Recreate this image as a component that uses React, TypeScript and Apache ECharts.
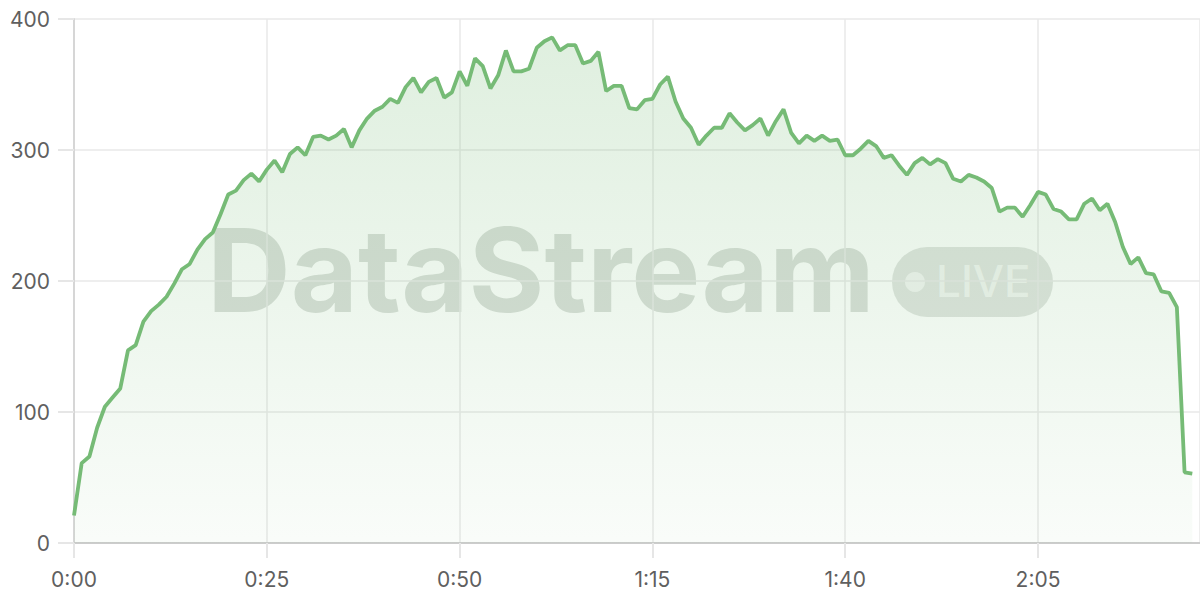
import React, { useEffect, useRef } from "react";
import * as echarts from "echarts";

// Throughput per second (index = elapsed seconds)
const values: number[] = [
  21, 61, 66, 88, 104, 111, 118, 147, 151, 169,
  177, 182, 188, 198, 209, 213, 224, 232, 237, 251,
  266, 269, 277, 282, 276, 285, 292, 283, 297, 302,
  296, 310, 311, 308, 311, 316, 302, 315, 324, 330,
  333, 339, 336, 348, 355, 344, 352, 355, 340, 344,
  360, 349, 370, 364, 347, 357, 376, 360, 360, 362,
  378, 383, 386, 376, 380, 380, 366, 368, 375, 345,
  349, 349, 332, 331, 338, 339, 350, 356, 337, 324,
  317, 304, 311, 317, 317, 328, 321, 315, 319, 324,
  311, 322, 331, 313, 305, 311, 307, 311, 307, 308,
  296, 296, 301, 307, 303, 294, 296, 288, 281, 290,
  294, 289, 293, 290, 278, 276, 281, 279, 276, 271,
  253, 256, 256, 249, 258, 268, 266, 255, 253, 247,
  247, 259, 263, 254, 259, 245, 226, 213, 218, 206,
  205, 192, 191, 180, 54, 53,
];
const xTickInterval = 25;
const xMax = 146;
const yTicks = [0, 100, 200, 300, 400];

const fmt = (v: number) => `${Math.floor(v / 60)}:${String(Math.round(v % 60)).padStart(2, "0")}`;

export default function App() {
  const ref = useRef<HTMLDivElement>(null);
  useEffect(() => {
    if (!ref.current) return;
    const chart = echarts.init(ref.current, undefined, { renderer: "svg" });
    const font = "Inter, 'Noto Sans', sans-serif";
    const cy = 19 + (543 - 19) / 2;
    chart.setOption({
      animation: false,
      grid: { left: 74, right: 0, top: 19, bottom: 57, containLabel: false },
      graphic: [
        {
          type: "group",
          z: 1,
          silent: true,
          children: [
            {
              type: "text",
              x: 207,
              y: cy - 11,
              style: {
                text: "DataStream",
                font: `bold 116px ${font}`,
                fill: "rgba(70,90,70,0.20)",
                textVerticalAlign: "middle",
                textAlign: "left",
              },
            },
            {
              type: "rect",
              shape: { x: 892, y: 247, width: 161, height: 70, r: 35 },
              style: { fill: "rgba(70,90,70,0.16)" },
            },
            {
              type: "circle",
              shape: { cx: 915, cy: 282, r: 10 },
              style: { fill: "rgba(255,255,255,0.6)" },
            },
            {
              type: "text",
              x: 936,
              y: 281,
              style: {
                text: "LIVE",
                font: `500 44px ${font}`,
                fill: "rgba(255,255,255,0.6)",
                textVerticalAlign: "middle",
                textAlign: "left",
              },
            },
          ],
        },
      ],
      xAxis: {
        type: "value",
        min: 0,
        max: xMax,
        interval: xTickInterval,
        axisLine: { show: true, lineStyle: { color: "#cccccc", width: 2 } },
        axisTick: { show: true, length: 15, lineStyle: { color: "#e6e6e6", width: 2 } },
        splitLine: { show: true, lineStyle: { color: "#e8e8e8", width: 1.5 } },
        axisLabel: {
          color: "#5f5f5f",
          fontSize: 21,
          fontFamily: font,
          margin: 26,
          showMaxLabel: false,
          formatter: (v: number) => (v % xTickInterval === 0 ? fmt(v) : ""),
        },
      },
      yAxis: {
        type: "value",
        min: yTicks[0],
        max: yTicks[yTicks.length - 1],
        interval: 100,
        axisLine: { show: true, lineStyle: { color: "#d6d6d6", width: 2 } },
        axisTick: { show: true, length: 16, lineStyle: { color: "#e6e6e6", width: 2 } },
        splitLine: { show: true, lineStyle: { color: "#e8e8e8", width: 1.5 } },
        axisLabel: { color: "#5f5f5f", fontSize: 21, fontFamily: font, margin: 24 },
      },
      series: [
        {
          type: "line",
          data: values.map((v, i) => [i, v]),
          symbol: "none",
          z: 3,
          lineStyle: { color: "#76bb76", width: 3.8 },
          areaStyle: {
            color: new echarts.graphic.LinearGradient(0, 0, 0, 1, [
              { offset: 0, color: "rgba(118,187,118,0.33)" },
              { offset: 1, color: "rgba(118,187,118,0.06)" },
            ]),
          },
        },
      ],
    });
    return () => chart.dispose();
  }, []);
  return <div ref={ref} style={{ position: "absolute", left: 0, top: 0, width: 1200, height: 600 }} />;
}
